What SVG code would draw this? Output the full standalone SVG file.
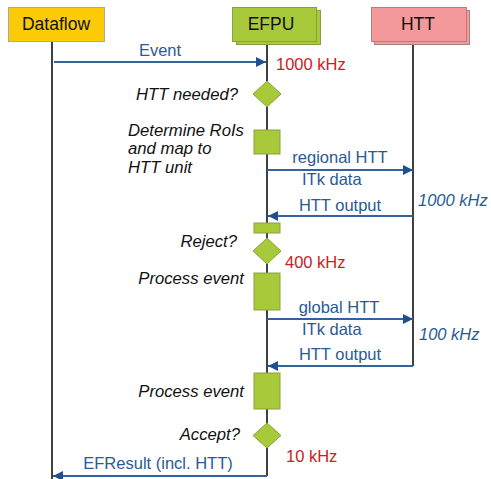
<svg xmlns="http://www.w3.org/2000/svg" width="491" height="479" viewBox="0 0 491 479">
<style>
.title{font-family:"Liberation Sans",Arial,sans-serif;font-size:17.5px;fill:#111;text-anchor:middle}
.lbl{font-family:"Liberation Sans",Arial,sans-serif;font-size:16.5px;fill:#2a5a96}
.note{font-family:"Liberation Sans",Arial,sans-serif;font-size:16.7px;font-style:italic;fill:#111;text-anchor:end}
.notel{font-family:"Liberation Sans",Arial,sans-serif;font-size:16.7px;font-style:italic;fill:#111}
.red{font-family:"Liberation Sans",Arial,sans-serif;font-size:16.5px;fill:#c9211e}
.blueit{font-family:"Liberation Sans",Arial,sans-serif;font-size:16.5px;font-style:italic;fill:#2a5a96}
.life{stroke:#111;stroke-width:1.6;fill:none}
.msg{stroke:#33629c;stroke-width:2;fill:none}
.act{fill:#a8c93a;stroke:#8aa33a;stroke-width:1}
</style>
<defs>
<marker id="ah" markerUnits="userSpaceOnUse" markerWidth="10" markerHeight="10" refX="10" refY="5" orient="auto">
<path d="M0,0 L10,5 L0,10 Z" fill="#1f4f8f"/>
</marker>
</defs>
<rect width="491" height="479" fill="#fff"/>
<g id="lifelines">
<line class="life" x1="52" y1="42" x2="52" y2="479"/>
<line class="life" x1="267" y1="42" x2="267" y2="476"/>
<line class="life" x1="413" y1="42" x2="413" y2="366"/>
</g>
<g id="dataflow">
<rect x="8.5" y="7.5" width="96" height="34" fill="#fccb05" stroke="#a8a8a8" stroke-width="1"/>
<text class="title" x="56" y="30">Dataflow</text>
</g>
<g id="efpu">
<rect x="236.5" y="10.5" width="84" height="34" fill="#a8c93a" stroke="#8a9e45" stroke-width="1"/>
<rect x="232.5" y="7.5" width="84" height="34" fill="#a8c93a" stroke="#8a9e45" stroke-width="1"/>
<text class="title" x="271" y="30">EFPU</text>
</g>
<g id="htt">
<rect x="374.5" y="10.5" width="95" height="34" fill="#f4999b" stroke="#b08080" stroke-width="1"/>
<rect x="371.5" y="7.5" width="95" height="34" fill="#f4999b" stroke="#b08080" stroke-width="1"/>
<text class="title" x="418" y="30">HTT</text>
</g>
<g id="activities">
<path class="act" d="M267,81 L281,94 L267,107 L253,94 Z"/>
<rect class="act" x="254" y="130" width="26" height="24"/>
<rect class="act" x="254" y="223" width="26" height="10"/>
<path class="act" d="M267,238 L281,251 L267,264 L253,251 Z"/>
<rect class="act" x="254" y="273" width="26" height="37"/>
<rect class="act" x="254" y="373" width="26" height="36"/>
<path class="act" d="M267,423 L281,435.5 L267,448 L253,435.5 Z"/>
</g>
<g id="connectors">
<line class="msg" x1="54" y1="62" x2="266" y2="62" marker-end="url(#ah)"/>
<line class="msg" x1="267" y1="170" x2="413" y2="170" marker-end="url(#ah)"/>
<line class="msg" x1="413" y1="216" x2="268" y2="216" marker-end="url(#ah)"/>
<line class="msg" x1="267" y1="319" x2="413" y2="319" marker-end="url(#ah)"/>
<line class="msg" x1="413" y1="366" x2="268" y2="366" marker-end="url(#ah)"/>
<line class="msg" x1="267" y1="476" x2="53" y2="476" marker-end="url(#ah)"/>
</g>
<g id="labels">
<text class="lbl" x="160" y="56" text-anchor="middle">Event</text>
<text class="red" x="276" y="70">1000 kHz</text>
<text class="note" x="238" y="100">HTT needed?</text>
<text class="notel" x="128" y="136">Determine RoIs</text>
<text class="notel" x="128" y="154">and map to</text>
<text class="notel" x="128" y="173">HTT unit</text>
<text class="lbl" x="340" y="163" text-anchor="middle">regional HTT</text>
<text class="lbl" x="302" y="185">ITk data</text>
<text class="blueit" x="418" y="206">1000 kHz</text>
<text class="lbl" x="340" y="211" text-anchor="middle">HTT output</text>
<text class="note" x="237" y="247">Reject?</text>
<text class="red" x="285" y="268">400 kHz</text>
<text class="note" x="244" y="284">Process event</text>
<text class="lbl" x="339" y="313" text-anchor="middle">global HTT</text>
<text class="lbl" x="302" y="335">ITk data</text>
<text class="blueit" x="419" y="340">100 kHz</text>
<text class="lbl" x="340" y="360" text-anchor="middle">HTT output</text>
<text class="note" x="244" y="397">Process event</text>
<text class="note" x="240" y="440">Accept?</text>
<text class="red" x="286" y="462">10 kHz</text>
<text class="lbl" x="158" y="469" text-anchor="middle">EFResult (incl. HTT)</text>
</g>
</svg>
